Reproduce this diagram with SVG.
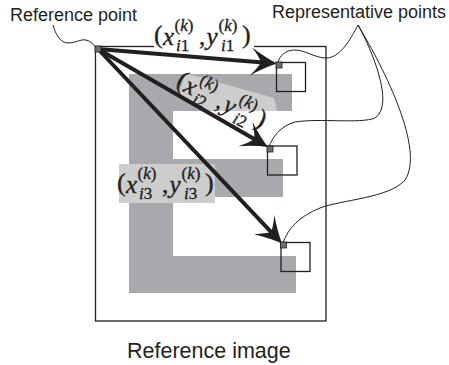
<svg xmlns="http://www.w3.org/2000/svg" width="449" height="365" viewBox="0 0 449 365">
<style>
.cap{font-family:"Liberation Sans",Arial,sans-serif;fill:#231f20}
.m{font-family:"Liberation Serif","Times New Roman",serif;fill:#231f20;stroke:#231f20;stroke-width:0.35}
.it{font-style:italic}
.big{font-size:25px}
.par{font-size:26px}
.sc{font-size:17px}
.frame{fill:none;stroke:#231f20;stroke-width:1.3}
.egr{fill:#a7a9ac}
.box{fill:none;stroke:#231f20;stroke-width:1.3}
.pt{fill:#6d6e71;stroke:#231f20;stroke-width:0.8}
.arr{fill:none;stroke:#231f20;stroke-width:4}
.lead{fill:none;stroke:#231f20;stroke-width:1}
</style>
<defs>
<marker id="head" markerUnits="userSpaceOnUse" viewBox="-14 -16 30 32" markerWidth="30" markerHeight="32" refX="0" refY="0" orient="auto" overflow="visible">
<path d="M14,0 Q2,-5 -12,-14 Q-4,-5 -2,0 Q-4,5 -12,14 Q2,5 14,0 Z" fill="#231f20"/>
</marker>
</defs>
<rect id="reference-image" class="frame" x="95.5" y="46.5" width="230.5" height="274.5"/>
<g id="letter-E" class="egr">
<rect x="129" y="74" width="44" height="219"/>
<rect x="129" y="74" width="163" height="37"/>
<rect x="129" y="159" width="154" height="38"/>
<rect x="129" y="256" width="167" height="37"/>
</g>
<rect x="154" y="18" width="100" height="30.5" fill="#fff"/>
<polygon points="185,73 274,98 277,111 204,111 179,94" fill="#cdcdcd"/>
<rect x="119" y="164" width="96" height="39" fill="#cdcdcd"/>
<g id="connectors">
<line class="arr" x1="98" y1="49" x2="263" y2="62.4" marker-end="url(#head)"/>
<line class="arr" x1="98" y1="49" x2="255.9" y2="140" marker-end="url(#head)"/>
<line class="arr" x1="98" y1="49" x2="272.4" y2="233.3" marker-end="url(#head)"/>
<path class="lead" d="M53,25 C55,33 60,43 68,43 C76,43 80,39 86,40 C91,41 94,45 96,48"/>
<path class="lead" d="M358,25 C350,40 340,58 326,58 C315,58 305,50 295,50 C285,50 280,56 278,62"/>
<path class="lead" d="M358,25 C372,50 395,105 375,118 C360,124 320,118 295,122 C280,126 272,138 269,147"/>
<path class="lead" d="M358,25 C385,70 425,150 405,180 C390,198 340,200 320,208 C300,216 288,228 283,243"/>
</g>
<g id="rep-point-1">
<rect class="box" x="276.5" y="62.5" width="29" height="29"/>
<rect class="pt" x="276" y="62" width="6" height="6"/>
</g>
<g id="rep-point-2">
<rect class="box" x="267.5" y="146" width="29.5" height="29"/>
<rect class="pt" x="267" y="146" width="6" height="6"/>
</g>
<g id="rep-point-3">
<rect class="box" x="281" y="242.5" width="29" height="29"/>
<rect class="pt" x="280.5" y="242" width="6" height="6"/>
</g>
<g id="reference-point">
<rect class="pt" x="95" y="46" width="6" height="6"/>
</g>
<g id="label-1">
<text class="m"><tspan class="par" x="154" y="43">(</tspan><tspan class="big it" x="163" y="44.5">x</tspan><tspan class="sc" x="174.5" y="31">(</tspan><tspan class="sc it">k</tspan><tspan class="sc">)</tspan><tspan class="sc it" x="176" y="51">i</tspan><tspan class="sc">1</tspan><tspan class="big" x="199" y="44.5">,</tspan><tspan class="big it" x="206.5" y="44.5">y</tspan><tspan class="sc" x="218.5" y="31">(</tspan><tspan class="sc it">k</tspan><tspan class="sc">)</tspan><tspan class="sc it" x="221" y="51">i</tspan><tspan class="sc">1</tspan><tspan class="par" x="242" y="43">)</tspan></text>
</g>
<g id="label-2" transform="translate(222,101) rotate(26) translate(-203,-36)">
<text class="m"><tspan class="par" x="154" y="43">(</tspan><tspan class="big it" x="163" y="44.5">x</tspan><tspan class="sc" x="174.5" y="31">(</tspan><tspan class="sc it">k</tspan><tspan class="sc">)</tspan><tspan class="sc it" x="176" y="51">i</tspan><tspan class="sc">2</tspan><tspan class="big" x="199" y="44.5">,</tspan><tspan class="big it" x="206.5" y="44.5">y</tspan><tspan class="sc" x="218.5" y="31">(</tspan><tspan class="sc it">k</tspan><tspan class="sc">)</tspan><tspan class="sc it" x="221" y="51">i</tspan><tspan class="sc">2</tspan><tspan class="par" x="242" y="43">)</tspan></text>
</g>
<g id="label-3" transform="translate(-37,148)">
<text class="m"><tspan class="par" x="154" y="43">(</tspan><tspan class="big it" x="163" y="44.5">x</tspan><tspan class="sc" x="174.5" y="31">(</tspan><tspan class="sc it">k</tspan><tspan class="sc">)</tspan><tspan class="sc it" x="176" y="51">i</tspan><tspan class="sc">3</tspan><tspan class="big" x="199" y="44.5">,</tspan><tspan class="big it" x="206.5" y="44.5">y</tspan><tspan class="sc" x="218.5" y="31">(</tspan><tspan class="sc it">k</tspan><tspan class="sc">)</tspan><tspan class="sc it" x="221" y="51">i</tspan><tspan class="sc">3</tspan><tspan class="par" x="242" y="43">)</tspan></text>
</g>
<text class="cap" x="10" y="21" font-size="18">Reference point</text>
<text class="cap" x="272" y="17.5" font-size="18">Representative points</text>
<text class="cap" x="127" y="358" font-size="21.5">Reference image</text>
</svg>
